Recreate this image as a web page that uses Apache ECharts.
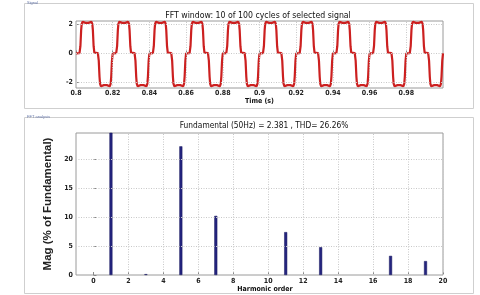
<!DOCTYPE html>
<html><head><meta charset="utf-8">
<script src="https://cdn.jsdelivr.net/npm/echarts@6/dist/echarts.min.js"></script>
<style>html,body{margin:0;padding:0;background:#fff}#c{width:480px;height:295px}</style>
</head><body><div id="c"></div>
<script>
// ---- Data ----
// one period of the signal (offset in s from cycle start, value)
const cycleOffsets = [0, 0.0019, 0.0024, 0.0028, 0.0031, 0.0036, 0.0044, 0.0052, 0.0060, 0.0068, 0.0076, 0.0084, 0.0089, 0.0092, 0.0096, 0.0100,
                      0.0119, 0.0124, 0.0128, 0.0131, 0.0136, 0.0144, 0.0152, 0.0160, 0.0168, 0.0176, 0.0184, 0.0189, 0.0192, 0.0196];
const cycleValues  = [0.0, 0.02, 0.5, 1.6, 2.05, 2.2, 2.25, 2.12, 2.0, 2.12, 2.25, 2.2, 2.05, 1.6, 0.5, 0.05,
                      0.03, -0.5, -1.6, -2.1, -2.28, -2.32, -2.2, -2.08, -2.2, -2.32, -2.28, -2.1, -1.6, -0.5];
const cycleStarts = [0.80, 0.82, 0.84, 0.86, 0.88, 0.90, 0.92, 0.94, 0.96, 0.98];
const endTime = 1.0, endValue = 0.0;
const timeTicks = [0.8, 0.82, 0.84, 0.86, 0.88, 0.9, 0.92, 0.94, 0.96, 0.98];
const signalTicks = [-2, 0, 2];

const harmonicOrder = [1, 3, 5, 7, 11, 13, 17, 19];
const harmonicMag   = [100, 0.15, 22.2, 10.2, 7.4, 4.8, 3.3, 2.4];
const harmonicTicks = [0, 2, 4, 6, 8, 10, 12, 14, 16, 18, 20];
const magTicks = [0, 5, 10, 15, 20];

const titleTop = 'FFT window: 10 of 100 cycles of selected signal';
const titleBottom = 'Fundamental (50Hz) = 2.381 , THD= 26.26%';

// ---- build series ----
const wave = [];
cycleStarts.forEach(t0 => {
  cycleOffsets.forEach((o, i) => wave.push([+(t0 + o).toFixed(5), cycleValues[i]]));
});
wave.push([endTime, endValue]);
const bars = harmonicOrder.map((h, i) => [h, harmonicMag[i]]);

const narrow = '"Liberation Sans Narrow", "DejaVu Sans Condensed", "Roboto Condensed", "Open Sans Condensed", Arial, sans-serif';
const lbl = {fontFamily: narrow, fontWeight: 'bold', fontSize: 7, color: '#222'};
const grid = {show: true, borderColor: '#9a9a9a', borderWidth: 1, backgroundColor: '#fff'};
const tick = {show: true, inside: true, length: 3, lineStyle: {color: '#888'}};
const gridLineStyle = {color: '#c8c8c8', type: [1, 1.5], width: 1};

function gridLines(xs, ys) {
  return {
    silent: true, symbol: 'none', label: {show: false}, animation: false,
    lineStyle: gridLineStyle,
    data: xs.map(v => ({xAxis: v})).concat(ys.map(v => ({yAxis: v})))
  };
}

const chart = echarts.init(document.getElementById('c'), null, {renderer: 'canvas'});
chart.setOption({
  animation: false,
  backgroundColor: '#fff',
  graphic: [
    {type: 'rect', shape: {x: 24.5, y: 3.5, width: 449, height: 105}, style: {fill: '#fff', stroke: '#cfcfcf', lineWidth: 1}, z: -10},
    {type: 'rect', shape: {x: 24.5, y: 117.5, width: 449, height: 176}, style: {fill: '#fff', stroke: '#cfcfcf', lineWidth: 1}, z: -10},
    {type: 'text', left: 27, top: 1, style: {text: 'Signal', fontSize: 4, fill: '#6677aa'}, z: -5},
    {type: 'text', left: 27, top: 115, style: {text: 'FFT analysis', fontSize: 4, fill: '#6677aa'}, z: -5}
  ],
  title: [
    {text: titleTop, left: 253, top: 6, textAlign: 'center',
     textStyle: {fontFamily: narrow, fontSize: 8.7, fontWeight: 'normal', color: '#111'}},
    {text: titleBottom, left: 259, top: 117, textAlign: 'center',
     textStyle: {fontFamily: narrow, fontSize: 8.3, fontWeight: 'normal', color: '#111'}}
  ],
  grid: [
    Object.assign({left: 76, top: 21, width: 367, height: 67}, grid),
    Object.assign({left: 76, top: 133, width: 367, height: 142}, grid)
  ],
  xAxis: [
    {type: 'value', gridIndex: 0, min: 0.8, max: 1.0,
     axisLine: {show: false}, axisTick: Object.assign({customValues: timeTicks}, tick),
     axisLabel: Object.assign({customValues: timeTicks, margin: 2}, lbl),
     splitLine: {show: false},
     name: 'Time (s)', nameLocation: 'middle', nameGap: 9,
     nameTextStyle: {fontFamily: narrow, fontWeight: 'bold', fontSize: 7, color: '#111'}},
    {type: 'value', gridIndex: 1, min: -1, max: 20,
     axisLine: {show: false}, axisTick: Object.assign({customValues: harmonicTicks}, tick),
     axisLabel: Object.assign({customValues: harmonicTicks, margin: 3}, lbl),
     splitLine: {show: false},
     name: 'Harmonic order', nameLocation: 'middle', nameGap: 9,
     nameTextStyle: {fontFamily: narrow, fontWeight: 'bold', fontSize: 7, color: '#111', padding: [0, 0, 0, 11]}}
  ],
  yAxis: [
    {type: 'value', gridIndex: 0, min: -2.4, max: 2.25,
     axisLine: {show: false}, axisTick: Object.assign({customValues: signalTicks}, tick),
     axisLabel: Object.assign({customValues: signalTicks, margin: 3}, lbl),
     splitLine: {show: false}},
    {type: 'value', gridIndex: 1, min: 0, max: 24.5,
     axisLine: {show: false}, axisTick: Object.assign({customValues: magTicks}, tick),
     axisLabel: Object.assign({customValues: magTicks, margin: 3}, lbl),
     splitLine: {show: false},
     name: 'Mag (% of Fundamental)', nameLocation: 'middle', nameGap: 22, nameRotate: 90,
     nameTextStyle: {fontFamily: '"Liberation Sans", Arial, sans-serif', fontWeight: 'bold', fontSize: 11.5, color: '#222'}}
  ],
  series: [
    {type: 'line', xAxisIndex: 0, yAxisIndex: 0, data: wave, showSymbol: false, clip: true,
     lineStyle: {color: '#cc2020', width: 2.2}, z: 3,
     markLine: gridLines(timeTicks.slice(1), signalTicks)},
    {type: 'bar', xAxisIndex: 1, yAxisIndex: 1, data: bars, barWidth: 3, clip: true,
     itemStyle: {color: '#24247f', borderColor: '#14145a', borderWidth: 0.5}, z: 3,
     markLine: gridLines(harmonicTicks.slice(1), magTicks.slice(1))}
  ]
});
</script></body></html>
